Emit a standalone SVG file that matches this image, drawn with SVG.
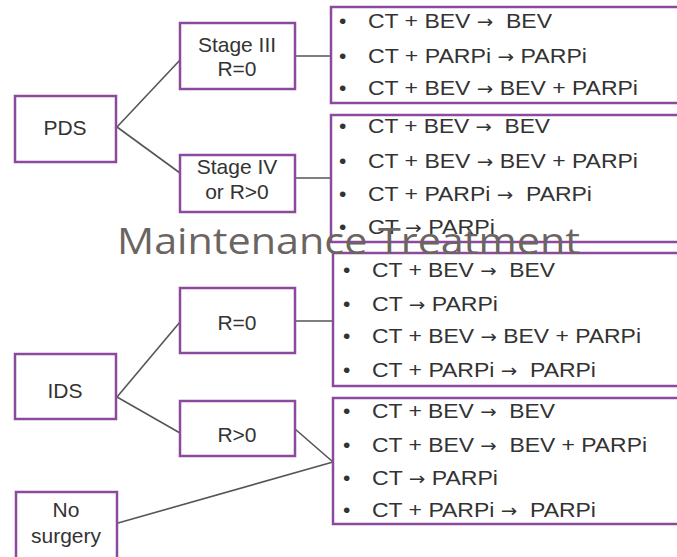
<svg xmlns="http://www.w3.org/2000/svg" width="677" height="557" viewBox="0 0 677 557">
<style>
.box{fill:#fff;stroke:#8b4a9e;stroke-width:2.5}
.lbl{font-family:"Liberation Sans",Arial,sans-serif;font-size:21px;fill:#333;text-anchor:middle}
.item{font-family:"Liberation Sans",Arial,sans-serif;font-size:21px;fill:#333;white-space:pre}
.ar{font-family:"DejaVu Sans",sans-serif;font-size:18px}
.conn{stroke:#555;stroke-width:1.6;fill:none}
.title{font-family:"Open Sans","Noto Sans",sans-serif;font-size:37px;fill:#6b6461}
</style>
<rect width="677" height="557" fill="#fff"/>
<g id="connectors">
<line class="conn" x1="117" y1="127" x2="180" y2="60"/>
<line class="conn" x1="117" y1="127" x2="180" y2="173"/>
<line class="conn" x1="295" y1="56" x2="331" y2="56"/>
<line class="conn" x1="295" y1="178" x2="331" y2="178"/>
<line class="conn" x1="117" y1="397" x2="180" y2="322"/>
<line class="conn" x1="117" y1="397" x2="180" y2="433"/>
<line class="conn" x1="295" y1="321" x2="333" y2="321"/>
<line class="conn" x1="295" y1="429" x2="333" y2="462"/>
<line class="conn" x1="118" y1="523" x2="333" y2="462"/>
</g>
<g id="pds"><rect class="box" x="15" y="96" width="101" height="66"/><text class="lbl" x="65" y="135">PDS</text></g>
<g id="stage3"><rect class="box" x="180" y="23" width="115" height="66"/><text class="lbl" x="237" y="52">Stage III</text><text class="lbl" x="237" y="76">R=0</text></g>
<g id="stage4"><rect class="box" x="180" y="155" width="115" height="57"/><text class="lbl" x="237" y="174">Stage IV</text><text class="lbl" x="237" y="199">or R&gt;0</text></g>
<g id="ids"><rect class="box" x="15" y="354" width="101" height="65"/><text class="lbl" x="65" y="398">IDS</text></g>
<g id="r0"><rect class="box" x="180" y="288" width="115" height="65"/><text class="lbl" x="237" y="330">R=0</text></g>
<g id="rgt0"><rect class="box" x="180" y="401" width="115" height="55"/><text class="lbl" x="237" y="442">R&gt;0</text></g>
<g id="nosurgery"><rect class="box" x="16" y="492" width="101" height="75"/><text class="lbl" x="66" y="517">No</text><text class="lbl" x="66" y="543">surgery</text></g>
<g id="list1"><rect class="box" x="331" y="7" width="360" height="96"/>
<text class="item" x="339" y="28">•</text><text class="item" x="368" y="28" textLength="184" lengthAdjust="spacingAndGlyphs">CT + BEV <tspan class="ar">→</tspan>  BEV</text>
<text class="item" x="339" y="63">•</text><text class="item" x="368" y="63" textLength="219" lengthAdjust="spacingAndGlyphs">CT + PARPi <tspan class="ar">→</tspan> PARPi</text>
<text class="item" x="339" y="95">•</text><text class="item" x="368" y="95" textLength="270" lengthAdjust="spacingAndGlyphs">CT + BEV <tspan class="ar">→</tspan> BEV + PARPi</text>
</g>
<g id="list2"><rect class="box" x="331" y="115" width="360" height="127"/>
<text class="item" x="339" y="133">•</text><text class="item" x="368" y="133" textLength="182" lengthAdjust="spacingAndGlyphs">CT + BEV <tspan class="ar">→</tspan>  BEV</text>
<text class="item" x="339" y="168">•</text><text class="item" x="368" y="168" textLength="270" lengthAdjust="spacingAndGlyphs">CT + BEV <tspan class="ar">→</tspan> BEV + PARPi</text>
<text class="item" x="339" y="201">•</text><text class="item" x="368" y="201" textLength="224" lengthAdjust="spacingAndGlyphs">CT + PARPi <tspan class="ar">→</tspan>  PARPi</text>
<text class="item" x="339" y="234">•</text><text class="item" x="368" y="234" textLength="127" lengthAdjust="spacingAndGlyphs">CT <tspan class="ar">→</tspan> PARPi</text>
</g>
<g id="list3"><rect class="box" x="333" y="253" width="360" height="133"/>
<text class="item" x="343" y="277">•</text><text class="item" x="372" y="277" textLength="183" lengthAdjust="spacingAndGlyphs">CT + BEV <tspan class="ar">→</tspan>  BEV</text>
<text class="item" x="343" y="311">•</text><text class="item" x="372" y="311" textLength="126" lengthAdjust="spacingAndGlyphs">CT <tspan class="ar">→</tspan> PARPi</text>
<text class="item" x="343" y="343">•</text><text class="item" x="372" y="343" textLength="269" lengthAdjust="spacingAndGlyphs">CT + BEV <tspan class="ar">→</tspan> BEV + PARPi</text>
<text class="item" x="343" y="377">•</text><text class="item" x="372" y="377" textLength="224" lengthAdjust="spacingAndGlyphs">CT + PARPi <tspan class="ar">→</tspan>  PARPi</text>
</g>
<g id="list4"><rect class="box" x="333" y="398" width="360" height="126"/>
<text class="item" x="343" y="418">•</text><text class="item" x="372" y="418" textLength="183" lengthAdjust="spacingAndGlyphs">CT + BEV <tspan class="ar">→</tspan>  BEV</text>
<text class="item" x="343" y="452">•</text><text class="item" x="372" y="452" textLength="275" lengthAdjust="spacingAndGlyphs">CT + BEV <tspan class="ar">→</tspan>  BEV + PARPi</text>
<text class="item" x="343" y="485">•</text><text class="item" x="372" y="485" textLength="126" lengthAdjust="spacingAndGlyphs">CT <tspan class="ar">→</tspan> PARPi</text>
<text class="item" x="343" y="517">•</text><text class="item" x="372" y="517" textLength="224" lengthAdjust="spacingAndGlyphs">CT + PARPi <tspan class="ar">→</tspan>  PARPi</text>
</g>
<text id="title" class="title" x="117" y="254" textLength="463" lengthAdjust="spacingAndGlyphs">Maintenance Treatment</text>
</svg>
